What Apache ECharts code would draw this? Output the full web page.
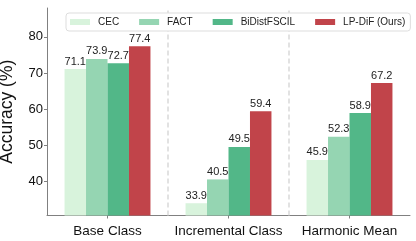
<!DOCTYPE html>
<html>
<head>
<meta charset="utf-8">
<script src="https://cdn.jsdelivr.net/npm/echarts@6/dist/echarts.min.js"></script>
<style>html,body{margin:0;padding:0;background:#fff}#c{width:416px;height:241px}</style>
</head>
<body>
<div id="c"></div>
<script>
const categories = ['Base Class', 'Incremental Class', 'Harmonic Mean'];
const seriesNames = ['CEC', 'FACT', 'BiDistFSCIL', 'LP-DiF (Ours)'];
const cecValues = [71.1, 33.9, 45.9];
const factValues = [73.9, 40.5, 52.3];
const bidistValues = [72.7, 49.5, 58.9];
const lpdifValues = [77.4, 59.4, 67.2];
const yTicks = [40, 50, 60, 70, 80];
const colors = ['#d8f3dc', '#95d5b2', '#52b788', '#c1444a'];

const allValues = [cecValues, factValues, bidistValues, lpdifValues];
const font = 'Liberation Sans, Arial, sans-serif';
const chart = echarts.init(document.getElementById('c'), null, {renderer: 'canvas'});
const series = allValues.map((vals, i) => ({
  name: seriesNames[i],
  type: 'bar',
  data: vals,
  barGap: '0%',
  barCategoryGap: '29%',
  itemStyle: {color: colors[i]},
  label: {show: true, position: 'top', distance: 2, fontSize: 11, color: '#222', fontFamily: font}
}));
series.push({
  name: 'sep',
  type: 'line',
  xAxisIndex: 1,
  data: [],
  silent: true,
  markLine: {
    symbol: 'none',
    silent: true,
    label: {show: false},
    lineStyle: {type: [5, 3], color: '#d9d9d9', width: 1.5},
    data: [{xAxis: 1}, {xAxis: 2}]
  }
});
chart.setOption({
  animation: false,
  grid: {left: 47, right: 6, top: 8, bottom: 25.5, containLabel: false, outerBoundsMode: 'none'},
  legend: {
    data: seriesNames,
    left: 66, top: 13,
    padding: [4, 5, 4, 4],
    itemWidth: 20, itemHeight: 6, itemGap: 20,
    borderColor: '#dddddd', borderWidth: 1, borderRadius: 3,
    backgroundColor: '#ffffff',
    z: 10,
    icon: 'rect',
    textStyle: {fontSize: 10, color: '#222', fontFamily: font, padding: [0, 0, 0, 3]}
  },
  xAxis: [{
    type: 'category',
    data: categories,
    axisLine: {lineStyle: {color: '#808080', width: 1}},
    axisTick: {show: true, alignWithLabel: true, length: 3, lineStyle: {color: '#808080'}},
    axisLabel: {fontSize: 13.5, color: '#111', margin: 9, interval: 0, hideOverlap: false, fontFamily: font},
    splitLine: {show: false}
  }, {
    type: 'value', min: 0, max: 3, show: false
  }],
  yAxis: {
    type: 'value',
    min: 30.5, max: 88,
    name: 'Accuracy (%)',
    nameLocation: 'middle',
    nameGap: 31,
    nameTextStyle: {fontSize: 17.5, color: '#111', fontFamily: font},
    axisLine: {show: true, lineStyle: {color: '#808080', width: 1}},
    axisTick: {show: true, length: 3, customValues: yTicks, lineStyle: {color: '#808080'}},
    axisLabel: {fontSize: 13, color: '#111', margin: 4, customValues: yTicks, fontFamily: font},
    splitLine: {show: false}
  },
  series: series
});
</script>
</body>
</html>
